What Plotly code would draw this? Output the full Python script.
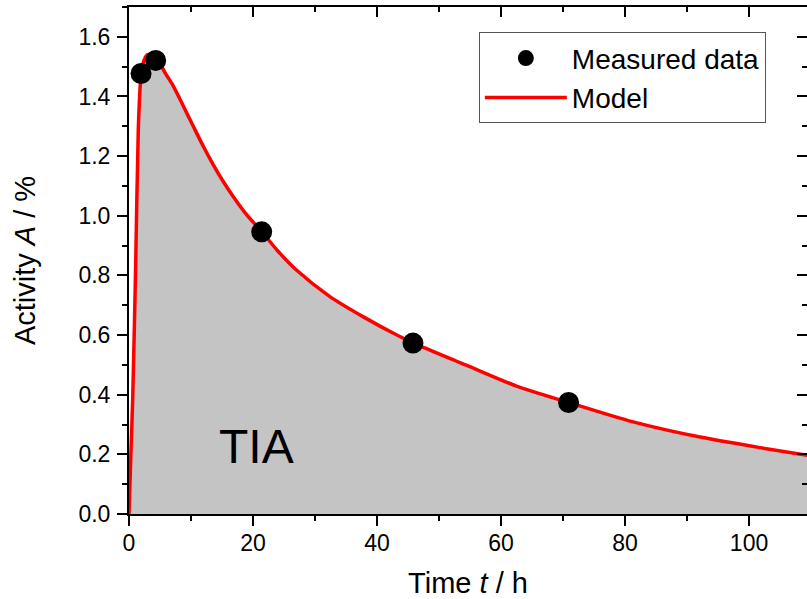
import plotly.graph_objects as go

# Measured data (time in h, activity in %)
meas_t = [1.94, 4.3, 21.4, 45.8, 70.9]
meas_a = [1.477, 1.521, 0.946, 0.573, 0.374]

# Model curve
model_t = [0, 0.3, 0.6, 1.08, 1.5, 1.9, 2.4, 3.0, 4.0, 5.0, 5.8, 7.15, 8.76, 10.37, 11.98, 13.6,
           15.2, 16.8, 19.0, 21.4, 24.0, 27.0, 32.4, 37.8, 43.2, 45.8, 54.4, 62.5, 70.9, 81.3,
           92.1, 102.8, 110]
model_a = [0, 0.2, 0.39, 0.84, 1.29, 1.46, 1.52, 1.54, 1.535, 1.51, 1.48, 1.435, 1.368, 1.300,
           1.233, 1.171, 1.115, 1.065, 1.003, 0.947, 0.882, 0.818, 0.729, 0.661, 0.600, 0.574,
           0.499, 0.429, 0.374, 0.309, 0.258, 0.219, 0.195]

x_ticks = [0, 20, 40, 60, 80, 100]
y_ticks = [0.0, 0.2, 0.4, 0.6, 0.8, 1.0, 1.2, 1.4, 1.6]
x_range = [0, 109.35]
y_range = [0, 1.7]

FONT = "Liberation Sans, Arial, sans-serif"

fig = go.Figure()
fig.add_trace(go.Scatter(x=model_t, y=model_a, mode="lines", line=dict(width=0),
                         fill="tozeroy", fillcolor="#c4c4c4", showlegend=False, hoverinfo="skip"))
fig.add_trace(go.Scatter(x=model_t, y=model_a, mode="lines", name="Model",
                         line=dict(color="#ff0000", width=3.5, shape="spline", smoothing=0.8),
                         legendrank=2))
fig.add_trace(go.Scatter(x=meas_t, y=meas_a, mode="markers", name="Measured data",
                         marker=dict(color="black", size=21), legendrank=1))
# dummy trace to host mirrored (inside-tick) axes
fig.add_trace(go.Scatter(x=[None], y=[None], xaxis="x2", yaxis="y2", showlegend=False, hoverinfo="skip"))

fig.add_annotation(x=20.6, y=0.228, text="TIA", showarrow=False,
                   font=dict(family=FONT, size=48, color="black"))

axis_common = dict(showgrid=False, zeroline=False, tickcolor="black", tickwidth=1.5,
                   automargin=False,
                   tickfont=dict(family=FONT, size=23, color="black"))

fig.update_layout(
    width=807, height=599,
    margin=dict(l=129, r=0, t=7, b=85),
    plot_bgcolor="white", paper_bgcolor="white",
    font=dict(family=FONT, color="black"),
    xaxis=dict(range=x_range, tickvals=x_ticks, ticks="outside", ticklen=10,
               minor=dict(dtick=10, ticks="outside", ticklen=5, tickcolor="black", tickwidth=1.5),
               showline=True, linecolor="black", linewidth=2, ticklabelstandoff=-3,
               title=dict(text="Time <i>t</i> / h", font=dict(family=FONT, size=29, color="black"),
                          standoff=24),
               **axis_common),
    yaxis=dict(range=y_range, tickvals=y_ticks, tickformat=".1f", ticks="outside", ticklen=10,
               minor=dict(dtick=0.1, ticks="outside", ticklen=5, tickcolor="black", tickwidth=1.5),
               showline=True, linecolor="black", linewidth=2, ticklabelstandoff=2,
               title=dict(text="Activity <i>A</i> / %", font=dict(family=FONT, size=29, color="black"),
                          standoff=34),
               **axis_common),
    xaxis2=dict(range=x_range, overlaying="x", side="top", anchor="y2", tickvals=x_ticks,
                ticks="inside", ticklen=10, showticklabels=False,
                minor=dict(dtick=10, ticks="inside", ticklen=5, tickcolor="black", tickwidth=1.5),
                showline=True, linecolor="black", linewidth=2, **axis_common),
    yaxis2=dict(range=y_range, overlaying="y", side="right", anchor="x2", tickvals=y_ticks,
                ticks="inside", ticklen=10, showticklabels=False,
                minor=dict(dtick=0.1, ticks="inside", ticklen=5, tickcolor="black", tickwidth=1.5),
                showline=False, **axis_common),
    legend=dict(x=0.516, y=0.95, xanchor="left", yanchor="top",
                bordercolor="#555555", borderwidth=1, bgcolor="white",
                font=dict(family=FONT, size=28, color="black"), itemwidth=82,
                tracegroupgap=0),
)

fig.write_html("out.html", config={"displayModeBar": False},
               post_script="document.body.style.margin='0';document.body.style.overflow='hidden';")
